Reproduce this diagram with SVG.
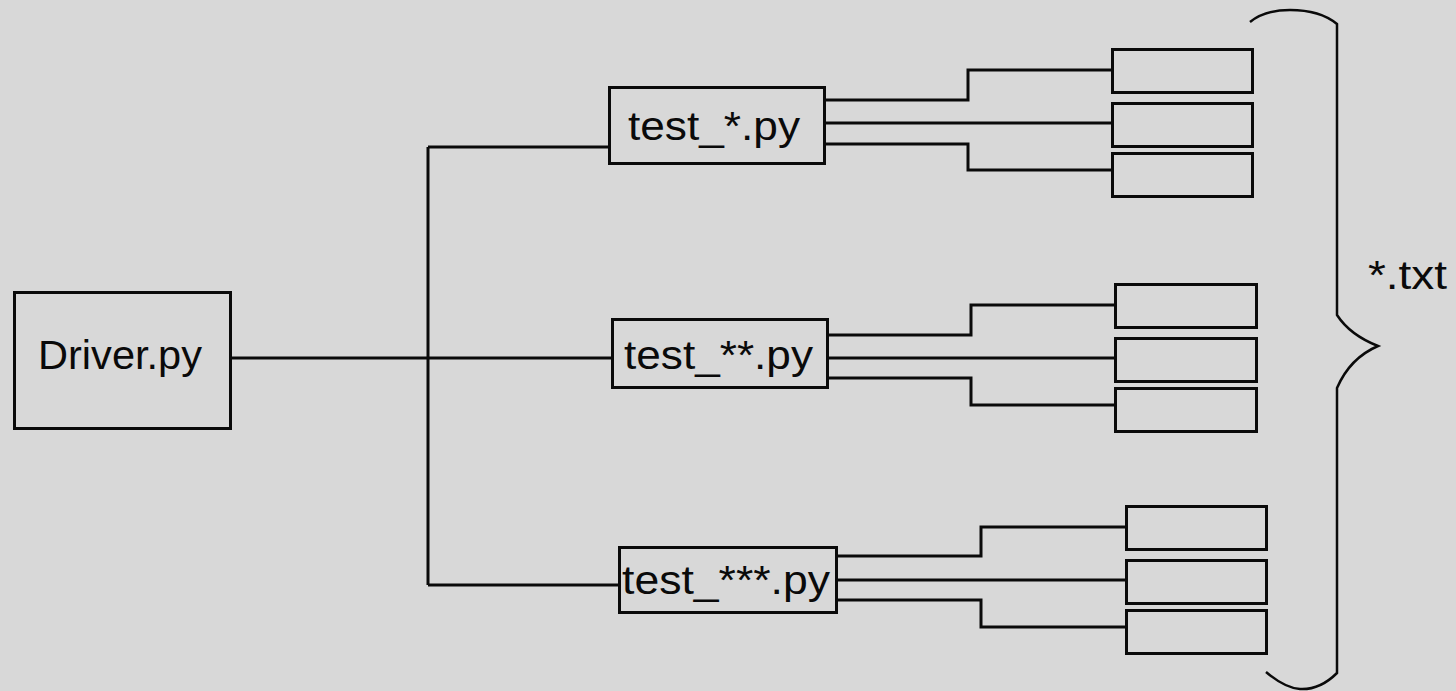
<svg xmlns="http://www.w3.org/2000/svg" width="1456" height="691" viewBox="0 0 1456 691">
<style>
.box{fill:none;stroke:#0a0a0a;stroke-width:3}
.ln{fill:none;stroke:#0a0a0a;stroke-width:3}
.br{fill:none;stroke:#0a0a0a;stroke-width:2.5}
.t{font-family:"Liberation Sans",Arial,sans-serif;font-size:40px;fill:#0a0a0a}
</style>
<rect width="1456" height="691" fill="#d8d8d8"/>
<g id="connectors">
<path class="ln" d="M230,358 H612 M428,147 V585 M428,147 H609 M428,585 H619"/>
<path class="ln" d="M825,100 H968 V70 H1112 M825,123 H1112 M825,144 H968 V170 H1112"/>
<path class="ln" d="M828,335 H971 V305 H1115 M828,358 H1115 M828,378 H971 V405 H1115"/>
<path class="ln" d="M837,556 H981 V527 H1126 M837,580 H1126 M837,600 H981 V627 H1126"/>
</g>
<g id="driver"><rect class="box" x="14.5" y="292.5" width="216" height="136"/><text class="t" x="38" y="369" textLength="164" lengthAdjust="spacingAndGlyphs">Driver.py</text></g>
<g id="test1"><rect class="box" x="609.5" y="87.5" width="215" height="76"/><text class="t" x="628" y="140" textLength="172" lengthAdjust="spacingAndGlyphs">test_*.py</text></g>
<g id="test2"><rect class="box" x="612.5" y="319.5" width="215" height="68"/><text class="t" x="624" y="369" textLength="189" lengthAdjust="spacingAndGlyphs">test_**.py</text></g>
<g id="test3"><rect class="box" x="619.5" y="547.5" width="217" height="65"/><text class="t" x="622" y="594" textLength="208" lengthAdjust="spacingAndGlyphs">test_***.py</text></g>
<g id="txt1a"><rect class="box" x="1112.5" y="49.5" width="140" height="43"/></g>
<g id="txt1b"><rect class="box" x="1112.5" y="103.5" width="140" height="43"/></g>
<g id="txt1c"><rect class="box" x="1112.5" y="153.5" width="140" height="43"/></g>
<g id="txt2a"><rect class="box" x="1115.5" y="284.5" width="141" height="43"/></g>
<g id="txt2b"><rect class="box" x="1115.5" y="338.5" width="141" height="43"/></g>
<g id="txt2c"><rect class="box" x="1115.5" y="388.5" width="141" height="43"/></g>
<g id="txt3a"><rect class="box" x="1126.5" y="506.5" width="140" height="43"/></g>
<g id="txt3b"><rect class="box" x="1126.5" y="560.5" width="140" height="43"/></g>
<g id="txt3c"><rect class="box" x="1126.5" y="610.5" width="140" height="43"/></g>
<g id="brace">
<path class="br" d="M1250,22 Q1265,10 1290,10 Q1320,10 1337,24 V315 Q1350,335 1378,346 Q1350,358 1337,388 V673 Q1320,690 1300,689 Q1285,688 1266,672"/>
<text class="t" x="1368" y="289" textLength="79" lengthAdjust="spacingAndGlyphs">*.txt</text>
</g>
</svg>
